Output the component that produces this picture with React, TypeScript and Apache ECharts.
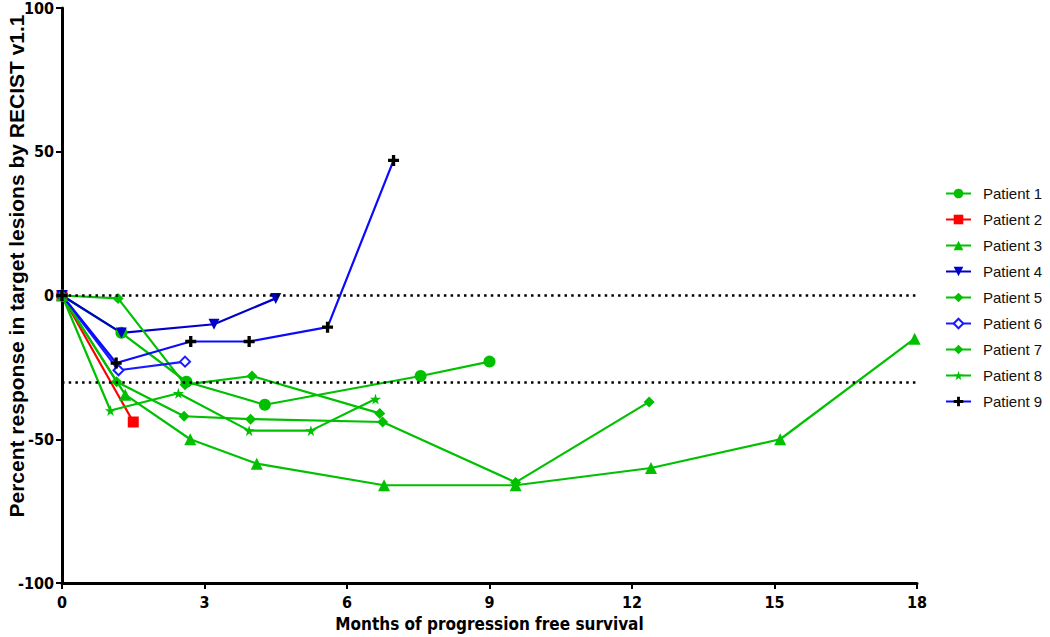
import React, { useEffect, useRef } from "react";
import * as echarts from "echarts";

const xTicks = [0, 3, 6, 9, 12, 15, 18];
const yTicks = [-100, -50, 0, 50, 100];
const referenceLines = [0, -30];

const patient1 = [[0, 0], [1.25, -13], [2.62, -30], [4.27, -38], [7.55, -28], [9.0, -23]];
const patient2 = [[0, 0], [1.5, -44]];
const patient3 = [[0, 0], [1.33, -34.5], [2.7, -50], [4.1, -58.5], [6.78, -66], [9.55, -66], [12.4, -60], [15.12, -50], [17.95, -15]];
const patient4 = [[0, 0], [1.25, -13], [3.2, -10], [4.5, -1]];
const patient5 = [[0, 0], [1.18, -1], [2.59, -31], [4.0, -28], [6.69, -41]];
const patient6 = [[0, 0], [1.19, -26], [2.59, -23]];
const patient7 = [[0, 0], [1.15, -30], [2.57, -42], [3.97, -43], [6.75, -44], [9.55, -65], [12.36, -37]];
const patient8 = [[0, 0], [1.02, -40], [2.45, -34], [3.94, -47], [5.24, -47], [6.6, -36]];
const patient9 = [[0, 0], [1.14, -23.5], [2.71, -16], [3.94, -16], [5.59, -11], [6.98, 47]];

const GREEN = "#00c000";
const STAR = "path://M50,0 L61,35 L98,35 L68,57 L79,91 L50,70 L21,91 L32,57 L2,35 L39,35 Z";
const PLUS = "path://M3.5,0 H6.5 V3.5 H10 V6.5 H6.5 V10 H3.5 V6.5 H0 V3.5 H3.5 Z";

const NARROW = "'Liberation Sans Narrow', 'Arial Narrow', 'DejaVu Sans Condensed', sans-serif";
const SANS = "'Liberation Sans', Arial, sans-serif";

export default function App() {
  const ref = useRef<HTMLDivElement>(null);
  useEffect(() => {
    if (!ref.current) return;
    const chart = echarts.init(ref.current, undefined, { renderer: "svg" });
    const mk = (name: string, data: number[][], color: string, symbol: string, size: number, extra: any = {}) => ({
      name,
      type: "line",
      data,
      symbol,
      symbolSize: size,
      lineStyle: { color, width: 2.2 },
      itemStyle: { color },
      ...extra,
    });
    const series: any[] = [
      mk("Patient 1", patient1, GREEN, "circle", 12, {
        markLine: {
          silent: true,
          symbol: "none",
          label: { show: false },
          lineStyle: { color: "#000", type: [2.5, 4.2], width: 2.5 },
          data: referenceLines.map((v) => ({ yAxis: v })),
        },
      }),
      mk("Patient 2", patient2, "#ff0000", "rect", 11),
      mk("Patient 3", patient3, GREEN, "triangle", 12),
      mk("Patient 4", patient4, "#0000c8", "triangle", 11, { symbolRotate: 180 }),
      mk("Patient 5", patient5, GREEN, "diamond", 11),
      mk("Patient 6", patient6, "#1a1aff", "emptyDiamond", 10, { itemStyle: { color: "#1a1aff", borderWidth: 1 } }),
      mk("Patient 7", patient7, GREEN, "diamond", 11),
      mk("Patient 8", patient8, GREEN, STAR, 11),
      mk("Patient 9", patient9, "#0a0aff", PLUS, 11, { itemStyle: { color: "#000" } }),
    ];
    chart.setOption({
      animation: false,
      backgroundColor: "#fff",
      grid: { left: 62, right: 133, top: 7, bottom: 54, containLabel: false },
      xAxis: {
        type: "value",
        min: xTicks[0],
        max: xTicks[xTicks.length - 1],
        interval: 3,
        name: "Months of progression free survival",
        nameLocation: "middle",
        nameGap: 32,
        nameTextStyle: { fontFamily: NARROW, fontWeight: "bold", fontSize: 17, color: "#000" },
        axisLine: { onZero: false, lineStyle: { color: "#000", width: 3 } },
        axisTick: { show: true, length: 6, lineStyle: { color: "#000", width: 2 } },
        axisLabel: { fontFamily: NARROW, fontWeight: "bold", fontSize: 16, color: "#000", margin: 11 },
        splitLine: { show: false },
      },
      yAxis: {
        type: "value",
        min: yTicks[0],
        max: yTicks[yTicks.length - 1],
        interval: 50,
        axisLine: { show: true, onZero: false, lineStyle: { color: "#000", width: 3 } },
        axisTick: { show: true, length: 6, lineStyle: { color: "#000", width: 2 } },
        axisLabel: { fontFamily: NARROW, fontWeight: "bold", fontSize: 16, color: "#000", margin: 8 },
        splitLine: { show: false },
      },
      legend: {
        orient: "vertical",
        left: 940,
        top: 181,
        itemWidth: 25,
        itemHeight: 12,
        itemGap: 11,
        textStyle: { fontFamily: SANS, fontSize: 15, color: "#111", padding: [0, 0, 0, 7] },
        data: series.map((s) => s.name),
      },
      graphic: [
        {
          type: "text",
          x: 16,
          y: 266,
          rotation: Math.PI / 2,
          style: {
            text: "Percent response in target lesions by RECIST v1.1",
            fontFamily: SANS,
            fontWeight: "bold",
            fontSize: 21,
            fill: "#000",
            align: "center",
            verticalAlign: "middle",
          },
        },
      ],
      series,
    });
    return () => chart.dispose();
  }, []);
  return <div ref={ref} style={{ position: "fixed", left: 0, top: 0, width: 1050, height: 637, background: "#fff" }} />;
}
